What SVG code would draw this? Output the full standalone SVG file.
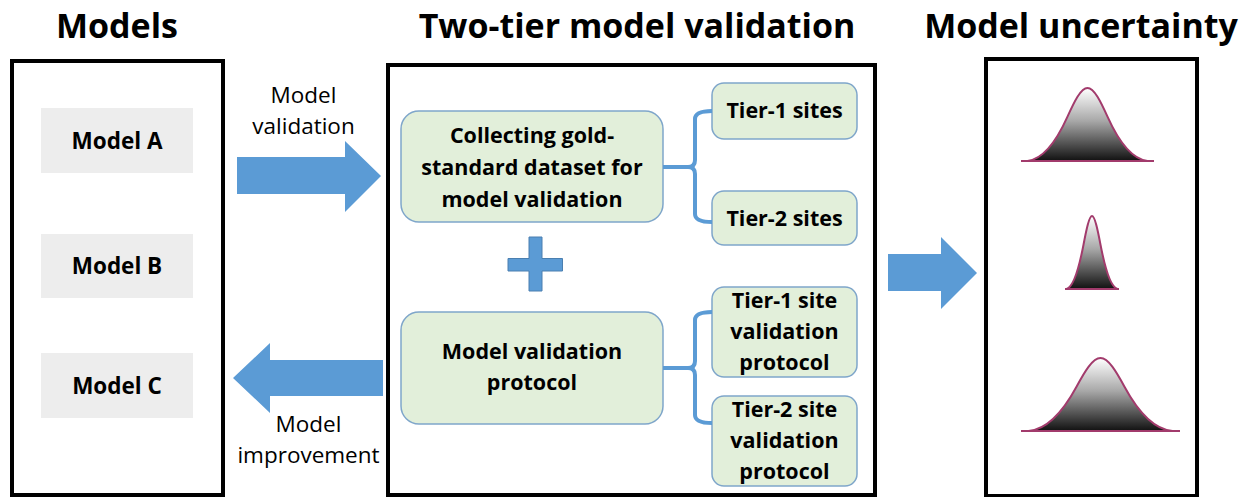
<svg xmlns="http://www.w3.org/2000/svg" width="1247" height="497" viewBox="0 0 1247 497">
<style>
  .title{font-family:"Open Sans","Liberation Sans",sans-serif;font-weight:700;font-size:34px;fill:#000;text-anchor:middle}
  .frame{fill:#fff;stroke:#000;stroke-width:4}
  .model{fill:#ededed}
  .mlabel{font-family:"Open Sans","Liberation Sans",sans-serif;font-weight:700;font-size:22.5px;fill:#000;text-anchor:middle}
  .gbox{fill:#e2efda;stroke:#7fa6ca;stroke-width:1.5}
  .glabel{font-family:"Open Sans","Liberation Sans",sans-serif;font-weight:700;font-size:21.5px;fill:#000;text-anchor:middle}
  .alabel{font-family:"Open Sans","Liberation Sans",sans-serif;font-size:22.5px;fill:#000;text-anchor:middle}
  .arrow{fill:#5b9bd5}
  .bracket{fill:none;stroke:#5b9bd5;stroke-width:4;stroke-linejoin:round}
  .bell{fill:url(#bellGrad);stroke:#a23b6c;stroke-width:2}
</style>
<defs>
  <linearGradient id="bellGrad" x1="0" y1="0" x2="0" y2="1">
    <stop offset="0" stop-color="#ffffff"/>
    <stop offset="0.45" stop-color="#a8a8a8"/>
    <stop offset="1" stop-color="#111111"/>
  </linearGradient>
</defs>
<rect width="1247" height="497" fill="#fff"/>

<g id="titles">
  <text class="title" x="117" y="38">Models</text>
  <text class="title" x="637" y="38">Two-tier model validation</text>
  <text class="title" x="1081" y="38">Model uncertainty</text>
</g>

<g id="models-panel">
  <rect class="frame" x="12" y="61" width="211" height="434"/>
</g>
<g id="model-a">
  <rect class="model" x="41" y="108" width="152" height="65"/>
  <text class="mlabel" x="117" y="149">Model A</text>
</g>
<g id="model-b">
  <rect class="model" x="41" y="234" width="152" height="64"/>
  <text class="mlabel" x="117" y="274">Model B</text>
</g>
<g id="model-c">
  <rect class="model" x="41" y="353" width="152" height="65"/>
  <text class="mlabel" x="117" y="393.5">Model C</text>
</g>

<g id="validation-panel">
  <rect class="frame" x="388" y="65" width="487" height="430"/>
</g>
<g id="collecting">
  <rect class="gbox" x="401" y="111" width="262" height="111" rx="18"/>
  <text class="glabel" x="532" y="143">Collecting gold-</text>
  <text class="glabel" x="532" y="175">standard dataset for</text>
  <text class="glabel" x="532" y="207">model validation</text>
</g>
<g id="tier1-sites">
  <rect class="gbox" x="712" y="83" width="145" height="56" rx="12"/>
  <text class="glabel" x="784.5" y="118">Tier-1 sites</text>
</g>
<g id="tier2-sites">
  <rect class="gbox" x="712" y="191" width="145" height="54" rx="12"/>
  <text class="glabel" x="784.5" y="226">Tier-2 sites</text>
</g>
<g id="plus">
  <path d="M529,237 H542 V258.5 H562.5 V271 H542 V291 H529 V271 H508 V258.5 H529 Z" fill="#5b9bd5" stroke="#4a7fb0" stroke-width="1"/>
</g>
<g id="protocol">
  <rect class="gbox" x="401" y="312" width="262" height="112" rx="18"/>
  <text class="glabel" x="532" y="359">Model validation</text>
  <text class="glabel" x="532" y="390">protocol</text>
</g>
<g id="tier1-protocol">
  <rect class="gbox" x="712" y="287" width="145" height="90" rx="12"/>
  <text class="glabel" x="784.5" y="308">Tier-1 site</text>
  <text class="glabel" x="784.5" y="339">validation</text>
  <text class="glabel" x="784.5" y="370">protocol</text>
</g>
<g id="tier2-protocol">
  <rect class="gbox" x="712" y="396" width="145" height="90" rx="12"/>
  <text class="glabel" x="784.5" y="417">Tier-2 site</text>
  <text class="glabel" x="784.5" y="448">validation</text>
  <text class="glabel" x="784.5" y="479">protocol</text>
</g>

<g id="uncertainty-panel">
  <rect class="frame" x="986" y="59" width="211" height="437"/>
</g>
<g id="bell-a">
  <path class="bell" d="M1021,161 L1027.5,161 C1040.8,159.5 1054.2,146.3 1067.5,116.7 C1074.2,101.9 1080.8,88 1087.5,88 C1094.2,88 1100.8,101.9 1107.5,116.7 C1120.8,146.3 1134.2,159.5 1147.5,161 L1154,161 Z"/>
</g>
<g id="bell-b">
  <path class="bell" d="M1065,289 L1066.5,289 C1072.2,287.5 1077.8,274.3 1083.5,244.7 C1086.3,229.9 1089.2,216 1092,216 C1094.8,216 1097.7,229.9 1100.5,244.7 C1106.2,274.3 1111.8,287.5 1117.5,289 L1119,289 Z"/>
</g>
<g id="bell-c">
  <path class="bell" d="M1021,431 L1028.5,431 C1044.5,429.5 1060.5,416.3 1076.5,386.7 C1084.5,371.9 1092.5,358 1100.5,358 C1108.5,358 1116.5,371.9 1124.5,386.7 C1140.5,416.3 1156.5,429.5 1172.5,431 L1180,431 Z"/>
</g>

<g id="connectors">
  <polygon class="arrow" points="237,157 345,157 345,141 381,176 345,212 345,194 237,194"/>
  <polygon class="arrow" points="383,360 270,360 270,343 233,378 270,413 270,396 383,396"/>
  <polygon class="arrow" points="888,254 941,254 941,237 977,273 941,309 941,291 888,291"/>
  <path class="bracket" d="M712,111 Q695,111 695,119 L695,160 Q695,167 688,167 L663,167 M688,167 Q695,167 695,174 L695,214 Q695,222 712,222"/>
  <path class="bracket" d="M712,312 Q695,312 695,320 L695,361 Q695,368 688,368 L663,368 M688,368 Q695,368 695,375 L695,415 Q695,423 712,423"/>
  <text class="alabel" x="303.5" y="103">Model</text>
  <text class="alabel" x="303.5" y="133.5">validation</text>
  <text class="alabel" x="308.5" y="432">Model</text>
  <text class="alabel" x="308.5" y="462.5">improvement</text>
</g>
</svg>
